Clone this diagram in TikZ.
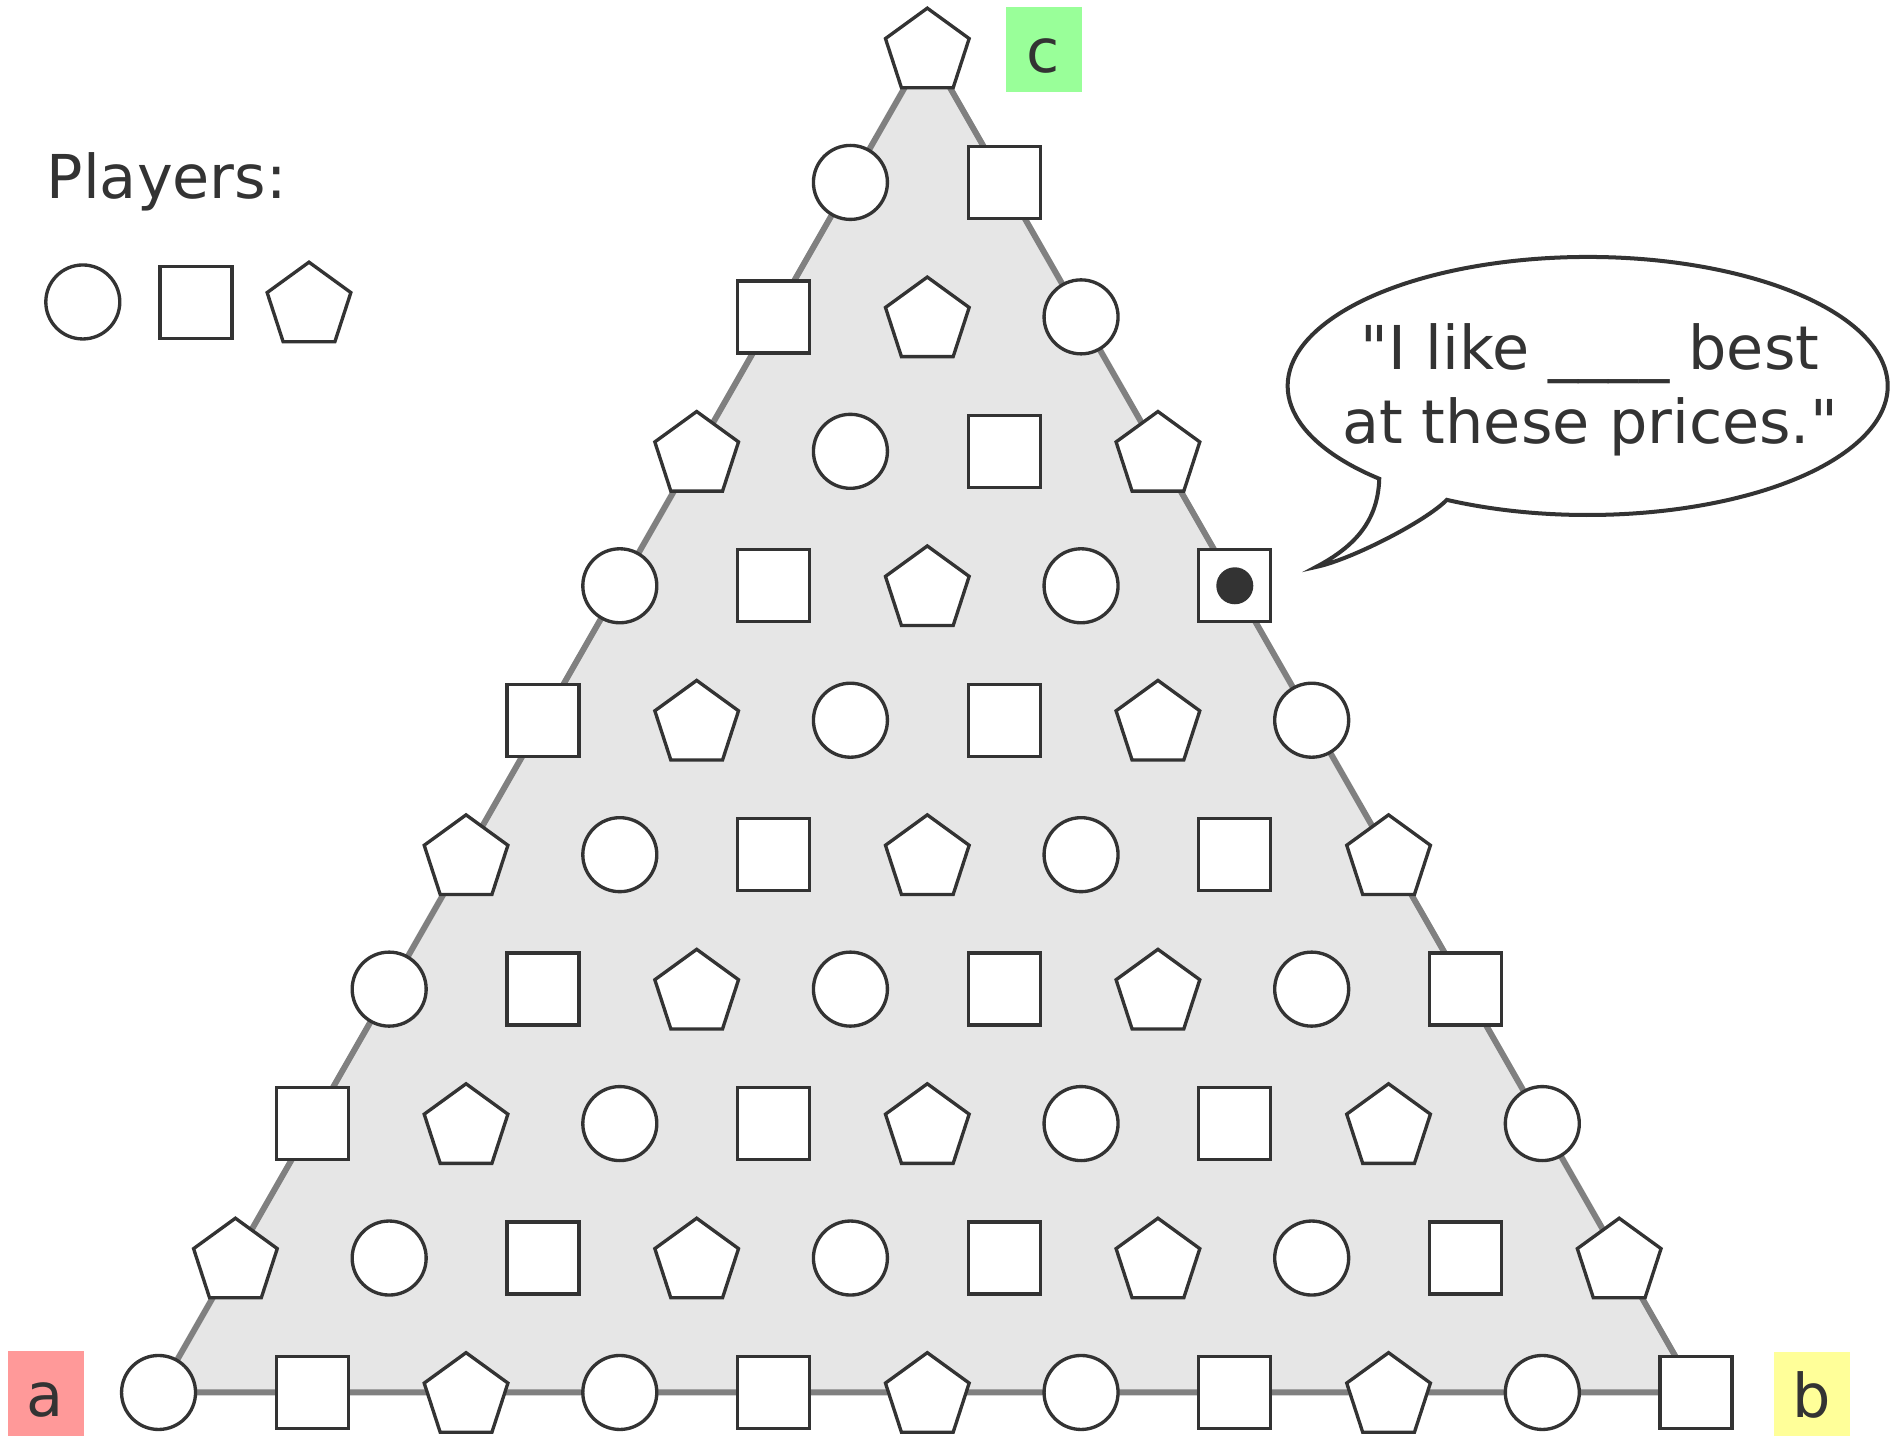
\documentclass[tikz,border=0pt]{standalone}
\usepackage{fontspec}
\setmainfont{DejaVu Sans}
\usetikzlibrary{shapes.geometric}

\definecolor{ink}{HTML}{333333}
\definecolor{boardfill}{HTML}{E6E6E6}
\definecolor{boardedge}{HTML}{808080}
\definecolor{labA}{HTML}{FF9999}
\definecolor{labB}{HTML}{FFFF99}
\definecolor{labC}{HTML}{99FF99}

\begin{document}
\begin{tikzpicture}[
    every node/.style={font=\fontsize{17.2pt}{21pt}\selectfont, text=ink},
    piece/.style={draw=ink, line width=0.95pt, fill=white, inner sep=0pt},
    pcirc/.style={piece, circle, minimum size=0.74cm},
    psquare/.style={piece, rectangle, minimum size=0.72cm},
    ppent/.style={piece, regular polygon, regular polygon sides=5, minimum size=0.88cm, yshift=-0.042cm},
    corner/.style={rectangle, minimum width=0.76cm, minimum height=0.85cm, text height=13pt, text depth=0pt, inner sep=0pt},
    board/.style={fill=boardfill, draw=boardedge, line width=1.7pt, line join=round},
    bubble/.style={fill=white, draw=ink, line width=1.14pt}]

    \useasboundingbox (0,0) rectangle (18.91,14.36);

    % Price simplex
    \coordinate (ca) at (1.5855,0.435);
    \coordinate (cb) at (16.9605,0.435);
    \coordinate (cc) at (9.273,13.88);
    \filldraw[board] (ca) -- (cb) -- (cc) -- cycle;

    % Players on the grid, row by row from the top
    \foreach \r in {0,...,10}{
      \foreach \k in {0,...,\r}{
        \pgfmathtruncatemacro{\kind}{mod(\k+\r+2,3)}
        \coordinate (g-\r-\k) at ({9.273+(\k-\r/2)*1.5375},{13.88-1.3445*\r});
        \ifcase\kind
          \node[pcirc] (p-\r-\k) at (g-\r-\k) {};
        \or
          \node[psquare] (p-\r-\k) at (g-\r-\k) {};
        \or
          \node[ppent] (p-\r-\k) at (g-\r-\k) {};
        \fi
      }
    }
    \node[circle, fill=ink, minimum size=0.37cm, inner sep=0pt] (pick) at (g-4-4) {};

    % Corner labels
    \node[corner, fill=labA] (la) at (0.455,0.425) {a};
    \node[corner, fill=labB] (lb) at (18.115,0.415) {b};
    \node[corner, fill=labC] (lc) at (10.435,13.867) {c};

    % Legend
    \node[anchor=base west, inner sep=0pt] (players) at (0.46,12.37) {Players:};
    \node[pcirc] (leg-c) at (0.828,11.34) {};
    \node[psquare] (leg-s) at (1.96,11.335) {};
    \node[ppent] (leg-p) at (3.09,11.34) {};

    % Speech bubble
    \coordinate (tailR) at (14.468,9.361);
    \coordinate (tip) at (13.16,8.69);
    \filldraw[bubble] (tailR) arc[start angle=242, end angle=586, x radius=3, y radius=1.29]
        .. controls (13.78,9.16) and (13.56,8.90) .. (tip)
        .. controls (13.50,8.76) and (14.25,9.14) .. (tailR) -- cycle;
    \node[align=center, inner sep=0pt] (quote) at (15.90,10.46)
        {\textquotedbl I like \_\_\_\_ best\\at these prices.\textquotedbl};
\end{tikzpicture}
\end{document}
